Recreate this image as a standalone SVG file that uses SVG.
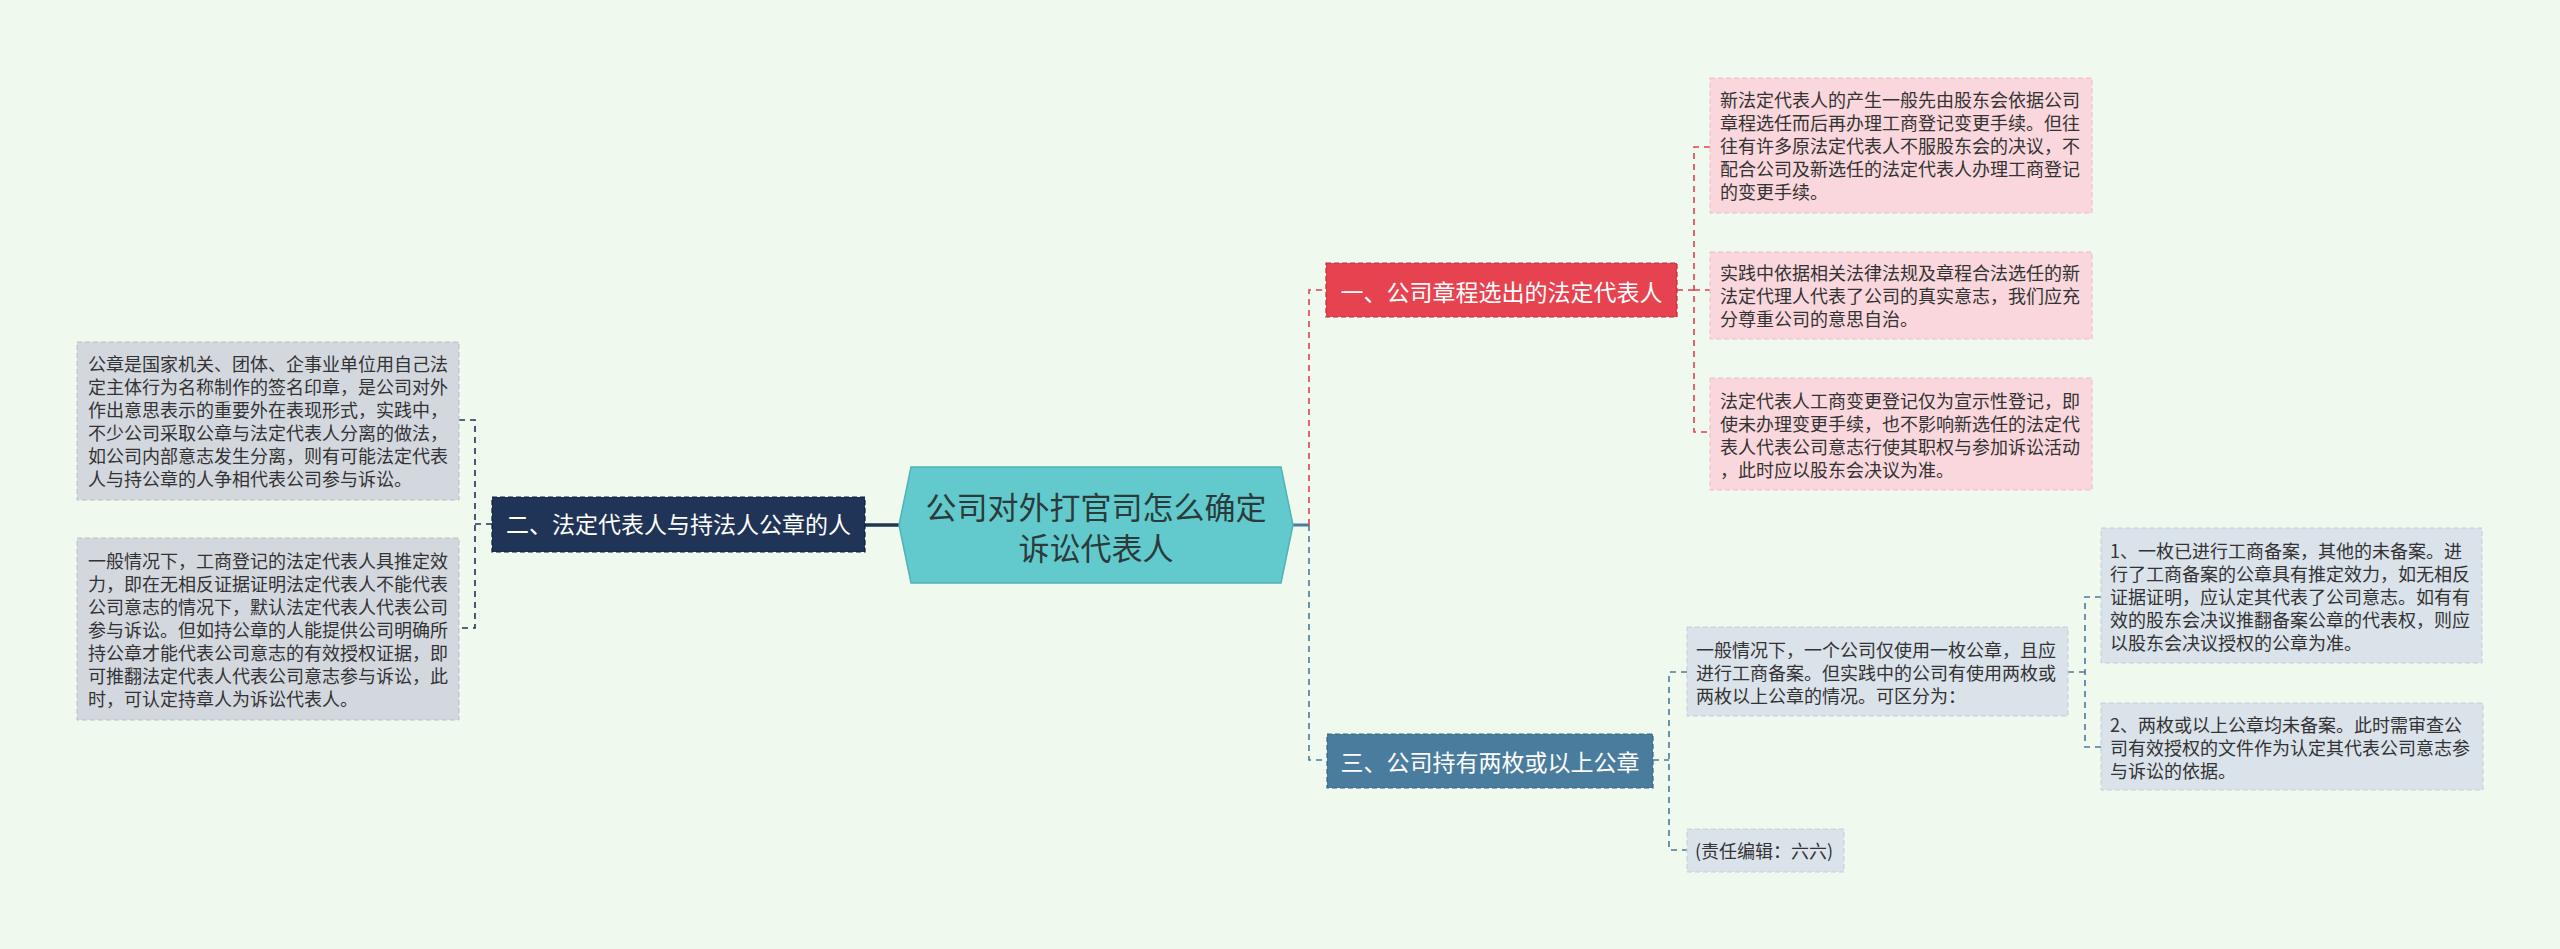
<svg xmlns="http://www.w3.org/2000/svg" width="2560" height="949" viewBox="0 0 2560 949">
<style>
text{font-family:"Noto Sans CJK SC","Noto Sans",sans-serif;}
.t{font-size:18px;fill:#333333;}
.n{font-size:23px;fill:#ffffff;text-anchor:middle;}
.root{font-size:31px;fill:#2b3a3a;text-anchor:middle;}
.gl{fill:#d3d8df;stroke:#b9c0c9;stroke-width:1;stroke-dasharray:5 3;}
.pk{fill:#f9d7dc;stroke:#eebcc4;stroke-width:1;stroke-dasharray:5 3;}
.gb{fill:#dae2ea;stroke:#c3ceda;stroke-width:1;stroke-dasharray:5 3;}
.c{fill:none;stroke-width:1.6;stroke-dasharray:6 5;}
</style>
<rect width="2560" height="949" fill="#eff9ee"/>
<g id="connectors">
<path d="M899,525 H865" fill="none" stroke="#1f3456" stroke-width="3.5"/>
<path d="M1293,525 H1309" fill="none" stroke="#4a7c9d" stroke-width="3"/>
<path class="c" stroke="#1f3456" d="M492,524 H475 M459,420 H475 V628 H459"/>
<path class="c" stroke="#e04050" d="M1309,525 V290 H1326"/>
<path class="c" stroke="#4a7c9d" d="M1309,525 V760 H1327"/>
<path class="c" stroke="#e04050" d="M1677,290 H1694 M1710,147 H1694 V432 H1710 M1694,290 H1710"/>
<path class="c" stroke="#4a7c9d" d="M1653,760 H1669 M1687,672 H1669 V850 H1687"/>
<path class="c" stroke="#4a7c9d" d="M2068,672 H2085 M2101,597 H2085 V747 H2101"/>
</g>
<g id="root">
<polygon points="911,467 1281,467 1293,525 1281,583 911,583 899,525" fill="#62cacc" stroke="#4fb3b7" stroke-width="1.5"/>
<text class="root" x="1096" y="519">公司对外打官司怎么确定</text>
<text class="root" x="1096" y="560">诉讼代表人</text>
</g>
<g id="node2">
<rect x="492" y="497" width="373" height="55" fill="#1f3456" stroke="#0f1f38" stroke-width="1.2" stroke-dasharray="5 3"/>
<text class="n" x="678.5" y="533">二、法定代表人与持法人公章的人</text>
</g>
<g id="node2-a">
<rect class="gl" x="77" y="342" width="382" height="158"/>
<text class="t" x="88"><tspan x="88" y="371">公章是国家机关、团体、企事业单位用自己法</tspan><tspan x="88" y="394">定主体行为名称制作的签名印章，是公司对外</tspan><tspan x="88" y="417">作出意思表示的重要外在表现形式，实践中，</tspan><tspan x="88" y="440">不少公司采取公章与法定代表人分离的做法，</tspan><tspan x="88" y="463">如公司内部意志发生分离，则有可能法定代表</tspan><tspan x="88" y="486">人与持公章的人争相代表公司参与诉讼。</tspan></text>
</g>
<g id="node2-b">
<rect class="gl" x="77" y="538" width="382" height="182"/>
<text class="t"><tspan x="88" y="568">一般情况下，工商登记的法定代表人具推定效</tspan><tspan x="88" y="591">力，即在无相反证据证明法定代表人不能代表</tspan><tspan x="88" y="614">公司意志的情况下，默认法定代表人代表公司</tspan><tspan x="88" y="637">参与诉讼。但如持公章的人能提供公司明确所</tspan><tspan x="88" y="660">持公章才能代表公司意志的有效授权证据，即</tspan><tspan x="88" y="683">可推翻法定代表人代表公司意志参与诉讼，此</tspan><tspan x="88" y="706">时，可认定持章人为诉讼代表人。</tspan></text>
</g>
<g id="node1">
<rect x="1326" y="263" width="351" height="54" fill="#e7424f" stroke="#c22a38" stroke-width="1.2" stroke-dasharray="5 3"/>
<text class="n" x="1501.5" y="301">一、公司章程选出的法定代表人</text>
</g>
<g id="node1-a">
<rect class="pk" x="1710" y="78" width="382" height="135"/>
<text class="t"><tspan x="1720" y="107">新法定代表人的产生一般先由股东会依据公司</tspan><tspan x="1720" y="130">章程选任而后再办理工商登记变更手续。但往</tspan><tspan x="1720" y="153">往有许多原法定代表人不服股东会的决议，不</tspan><tspan x="1720" y="176">配合公司及新选任的法定代表人办理工商登记</tspan><tspan x="1720" y="199">的变更手续。</tspan></text>
</g>
<g id="node1-b">
<rect class="pk" x="1710" y="252" width="382" height="87"/>
<text class="t"><tspan x="1720" y="280">实践中依据相关法律法规及章程合法选任的新</tspan><tspan x="1720" y="303">法定代理人代表了公司的真实意志，我们应充</tspan><tspan x="1720" y="326">分尊重公司的意思自治。</tspan></text>
</g>
<g id="node1-c">
<rect class="pk" x="1710" y="378" width="382" height="112"/>
<text class="t"><tspan x="1720" y="408">法定代表人工商变更登记仅为宣示性登记，即</tspan><tspan x="1720" y="431">使未办理变更手续，也不影响新选任的法定代</tspan><tspan x="1720" y="454">表人代表公司意志行使其职权与参加诉讼活动</tspan><tspan x="1720" y="477">，此时应以股东会决议为准。</tspan></text>
</g>
<g id="node3">
<rect x="1327" y="734" width="326" height="54" fill="#4a7c9d" stroke="#356584" stroke-width="1.2" stroke-dasharray="5 3"/>
<text class="n" x="1490" y="771">三、公司持有两枚或以上公章</text>
</g>
<g id="node3-a">
<rect class="gb" x="1687" y="627" width="381" height="89"/>
<text class="t"><tspan x="1696" y="657">一般情况下，一个公司仅使用一枚公章，且应</tspan><tspan x="1696" y="680">进行工商备案。但实践中的公司有使用两枚或</tspan><tspan x="1696" y="703">两枚以上公章的情况。可区分为：</tspan></text>
</g>
<g id="node3-a-1">
<rect class="gb" x="2101" y="528" width="381" height="135"/>
<text class="t"><tspan x="2110" y="558">1、一枚已进行工商备案，其他的未备案。进</tspan><tspan x="2110" y="581">行了工商备案的公章具有推定效力，如无相反</tspan><tspan x="2110" y="604">证据证明，应认定其代表了公司意志。如有有</tspan><tspan x="2110" y="627">效的股东会决议推翻备案公章的代表权，则应</tspan><tspan x="2110" y="650">以股东会决议授权的公章为准。</tspan></text>
</g>
<g id="node3-a-2">
<rect class="gb" x="2101" y="703" width="382" height="87"/>
<text class="t"><tspan x="2110" y="732">2、两枚或以上公章均未备案。此时需审查公</tspan><tspan x="2110" y="755">司有效授权的文件作为认定其代表公司意志参</tspan><tspan x="2110" y="778">与诉讼的依据。</tspan></text>
</g>
<g id="node3-b">
<rect class="gb" x="1687" y="829" width="157" height="43"/>
<text class="t" x="1695" y="858">(责任编辑：六六)</text>
</g>
</svg>
